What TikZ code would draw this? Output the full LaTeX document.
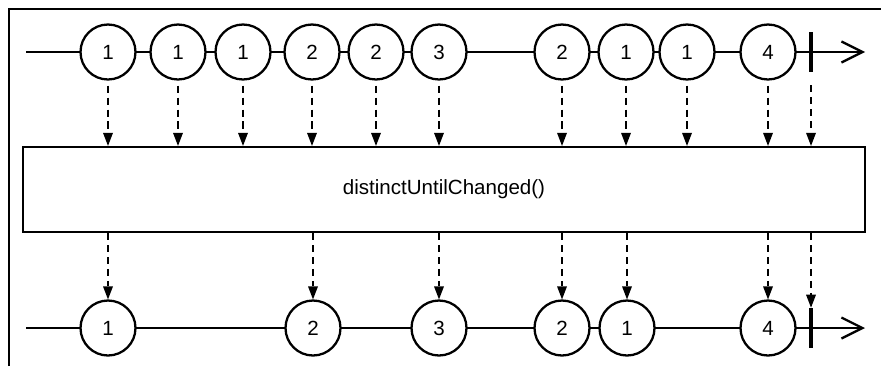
\documentclass[tikz,border=0pt]{standalone}
\usepackage{fontspec}
\setmainfont{Liberation Sans}
\usetikzlibrary{arrows.meta}

\tikzset{
  marble/.style={circle,draw,line width=1.3pt,fill=white,minimum size=1.1cm,inner sep=0pt,font=\fontsize{11.7}{12}\selectfont},
  endbar/.style={rectangle,fill=black,minimum width=0.08cm,minimum height=0.8cm,inner sep=0pt},
  timeline/.style={line width=1.3pt,-{Straight Barb[length=0.42cm,width=0.42cm,line width=1.3pt]}},
  flow/.style={line width=1.4pt,dash pattern=on 4pt off 2.8pt,-{Triangle[length=0.26cm,width=0.2cm,line width=0pt]}},
  opbox/.style={rectangle,draw,line width=1.3pt,fill=white,minimum width=16.84cm,minimum height=1.7cm,font=\fontsize{11.7}{13}\selectfont}
}

\begin{document}
\begin{tikzpicture}[x=0.02cm,y=-0.02cm]
\useasboundingbox (0,0) rectangle (881,366);
% frame
\draw[line width=1.7pt] (9,366) -- (9,9) -- (881,9);
% source stream
\coordinate (ts) at (26,52);
\coordinate (te) at (865,52);
\draw[timeline] (ts) -- (te);
\node[marble] (t1) at (108,52) {1};
\node[marble] (t2) at (178,52) {1};
\node[marble] (t3) at (243,52) {1};
\node[marble] (t4) at (312,52) {2};
\node[marble] (t5) at (376,52) {2};
\node[marble] (t6) at (439,52) {3};
\node[marble] (t7) at (562,52) {2};
\node[marble] (t8) at (626,52) {1};
\node[marble] (t9) at (687,52) {1};
\node[marble] (t10) at (768,52) {4};
\node[endbar] (tend) at (811,52) {};
% operator
\node[opbox] (op) at (444,189.5) {distinctUntilChanged()};
% result stream
\coordinate (bs) at (26,328);
\coordinate (be) at (865,328);
\draw[timeline] (bs) -- (be);
\node[marble] (b1) at (108,328) {1};
\node[marble] (b2) at (313,328) {2};
\node[marble] (b3) at (439,328) {3};
\node[marble] (b4) at (562,328) {2};
\node[marble] (b5) at (627,328) {1};
\node[marble] (b6) at (768,328) {4};
\node[endbar] (bend) at (811,328) {};
% into the operator
\foreach \t in {t1,t2,t3,t4,t5,t6,t7,t8,t9,t10}
  \draw[flow,shorten <=0.1cm] (\t.south) -- (\t.south |- op.north);
\draw[flow,shorten <=0.26cm] (tend.south) -- (tend.south |- op.north);
% out of the operator
\foreach \b in {b1,b2,b3,b4,b5,b6}
  \draw[flow] (op.south -| \b.north) -- (\b.north);
\draw[flow] (op.south -| bend.north) -- (bend.north);
\end{tikzpicture}
\end{document}
